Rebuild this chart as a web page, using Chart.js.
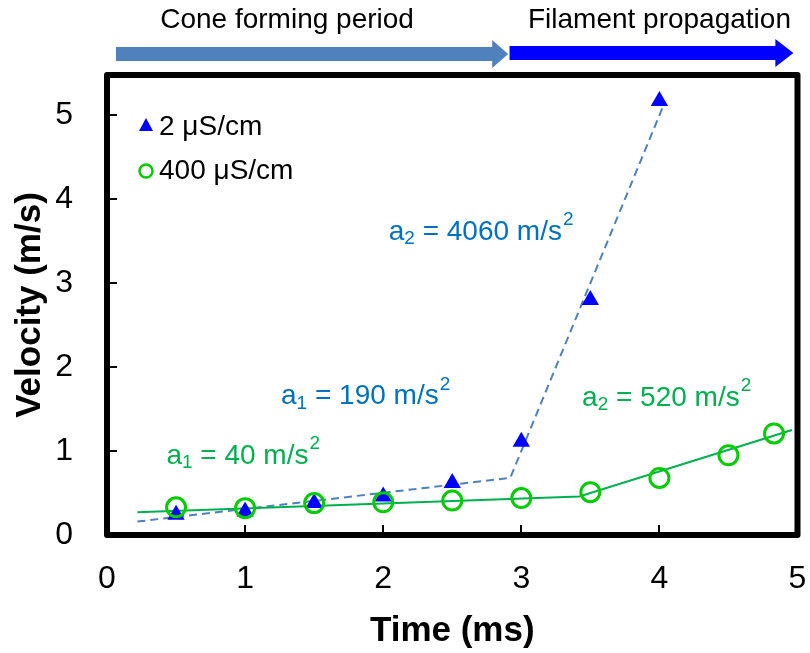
<!DOCTYPE html>
<html>
<head>
<meta charset="utf-8">
<script src="https://cdn.jsdelivr.net/npm/chart.js@4.4.1/dist/chart.umd.min.js"></script>
<style>
  html, body { margin: 0; padding: 0; background: #fff; }
  #wrap { width: 810px; height: 653px; }
</style>
</head>
<body>
<div id="wrap"><canvas id="velChart" width="810" height="653"></canvas></div>
<script>
// --- Data ---
const time2 = [0.5, 1, 1.5, 2, 2.5, 3, 3.5, 4];
const vel2 = [0.24, 0.28, 0.38, 0.46, 0.62, 1.11, 2.80, 5.17];
const time400 = [0.5, 1, 1.5, 2, 2.5, 3, 3.5, 4, 4.5, 4.83];
const vel400 = [0.33, 0.32, 0.38, 0.39, 0.41, 0.44, 0.51, 0.68, 0.95, 1.21];

// piecewise linear fits
const fitTime2 = [0.22, 2.92, 4.03];
const fitVel2 = [0.16, 0.68, 5.12];
const fitTime400 = [0.22, 3.42, 4.96];
const fitVel400 = [0.27, 0.46, 1.25];

const xTicks = [0, 1, 2, 3, 4, 5];
const yTicks = [0, 1, 2, 3, 4, 5];

const seriesNames = ['2 \u03bcS/cm', '400 \u03bcS/cm'];

// phase arrows along the top (in ms)
const phaseNames = ['Cone forming period', 'Filament propagation'];
const phaseFrom = [0.065, 2.915];
const phaseTo = [2.905, 4.97];

// slope labels: [sub, rest, x (ms), y (m/s), colour]
const slopeText = [
    ['2', ' = 4060 m/s', 2.04, 3.61, '#0070C0'],
    ['1', ' = 190 m/s', 1.26, 1.65, '#0070C0'],
    ['1', ' = 40 m/s', 0.43, 0.94, '#00B050'],
    ['2', ' = 520 m/s', 3.44, 1.63, '#00B050']
];

const FONT = '"Liberation Sans", Arial, sans-serif';

function pts(xs, ys) {
    return xs.map((x, i) => ({ x: x, y: ys[i] }));
}

// --- Plugin: frame, inner ticks, arrows, labels, legend ---
const decor = {
    id: 'decor',
    afterDatasetsDraw(chart) {
        const ctx = chart.ctx;
        const a = chart.chartArea;
        const xs = chart.scales.x, ys = chart.scales.y;
        ctx.save();

        // inner tick marks
        ctx.strokeStyle = '#000';
        ctx.lineWidth = 2;
        ctx.beginPath();
        xTicks.slice(1, -1).forEach(v => {
            const px = Math.round(xs.getPixelForValue(v));
            ctx.moveTo(px, a.bottom);
            ctx.lineTo(px, a.bottom - 10);
        });
        yTicks.slice(1).forEach(v => {
            const py = Math.round(ys.getPixelForValue(v));
            ctx.moveTo(a.left, py);
            ctx.lineTo(a.left + 10, py);
        });
        ctx.stroke();

        // thick frame
        ctx.lineWidth = 6;
        ctx.lineJoin = 'round';
        ctx.strokeRect(a.left, a.top, a.right - a.left, a.bottom - a.top);

        // arrows
        const arrowCol = ['#4F81BD', '#0000FF'];
        phaseNames.forEach((name, i) => {
            const x0 = xs.getPixelForValue(phaseFrom[i]);
            const x1 = xs.getPixelForValue(phaseTo[i]);
            const cy = i === 0 ? 54 : 53;
            const head = i === 0 ? 16 : 18;
            ctx.fillStyle = arrowCol[i];
            ctx.beginPath();
            ctx.moveTo(x0, cy - 7);
            ctx.lineTo(x1 - head, cy - 7);
            ctx.lineTo(x1 - head, cy - 14);
            ctx.lineTo(x1, cy);
            ctx.lineTo(x1 - head, cy + 14);
            ctx.lineTo(x1 - head, cy + 7);
            ctx.lineTo(x0, cy + 7);
            ctx.closePath();
            ctx.fill();

            ctx.fillStyle = '#000';
            ctx.font = '28px ' + FONT;
            ctx.textAlign = 'center';
            ctx.textBaseline = 'middle';
            ctx.fillText(name, (x0 + x1) / 2 + (i === 0 ? -25 : 8), 20);
        });

        // slope labels
        ctx.textAlign = 'left';
        ctx.textBaseline = 'middle';
        slopeText.forEach(t => {
            let px = xs.getPixelForValue(t[2]);
            const py = ys.getPixelForValue(t[3]);
            ctx.fillStyle = t[4];
            ctx.font = '28px ' + FONT;
            ctx.fillText('a', px, py);
            px += ctx.measureText('a').width;
            ctx.font = '19px ' + FONT;
            ctx.fillText(t[0], px, py + 7);
            px += ctx.measureText(t[0]).width;
            ctx.font = '28px ' + FONT;
            ctx.fillText(t[1], px, py);
            px += ctx.measureText(t[1]).width;
            ctx.font = '19px ' + FONT;
            ctx.fillText('2', px + 1, py - 12);
        });

        // legend
        ctx.font = '28px ' + FONT;
        ctx.fillStyle = '#000';
        ctx.fillText(seriesNames[0], 159, 127);
        ctx.fillText(seriesNames[1], 159, 171);
        ctx.fillStyle = '#0000FF';
        ctx.beginPath();
        ctx.moveTo(146, 118);
        ctx.lineTo(153, 131);
        ctx.lineTo(139, 131);
        ctx.closePath();
        ctx.fill();
        ctx.strokeStyle = '#00CC00';
        ctx.lineWidth = 2.5;
        ctx.beginPath();
        ctx.arc(146, 171, 6.5, 0, Math.PI * 2);
        ctx.stroke();

        ctx.restore();
    }
};

new Chart(document.getElementById('velChart'), {
    type: 'scatter',
    data: {
        datasets: [
            {
                label: seriesNames[1],
                data: pts(time400, vel400),
                pointStyle: 'circle',
                pointRadius: 9.5,
                pointBorderWidth: 3,
                borderColor: '#00CC00',
                backgroundColor: 'rgba(0,0,0,0)',
                showLine: false,
                order: 0
            },
            {
                label: seriesNames[0],
                data: pts(time2, vel2),
                pointStyle: 'triangle',
                pointRadius: 10,
                pointBorderWidth: 0,
                borderColor: '#0000FF',
                backgroundColor: '#0000FF',
                showLine: false,
                order: 1
            },
            {
                label: 'fit 400',
                data: pts(fitTime400, fitVel400),
                showLine: true,
                borderColor: '#00B050',
                borderWidth: 2,
                pointRadius: 0,
                order: 2
            },
            {
                label: 'fit 2',
                data: pts(fitTime2, fitVel2),
                showLine: true,
                borderColor: '#4F81BD',
                borderWidth: 2,
                borderDash: [8, 5],
                pointRadius: 0,
                order: 3
            }
        ]
    },
    options: {
        responsive: false,
        animation: false,
        events: [],
        layout: { padding: { top: 75, right: 11, left: 0, bottom: 0 } },
        plugins: { legend: { display: false }, tooltip: { enabled: false } },
        scales: {
            x: {
                type: 'linear',
                min: 0,
                max: 5,
                border: { display: false },
                grid: { display: false, drawTicks: false },
                ticks: {
                    stepSize: 1,
                    padding: 25,
                    color: '#000',
                    font: { family: FONT, size: 32 }
                },
                title: {
                    display: true,
                    text: 'Time (ms)',
                    color: '#000',
                    font: { family: FONT, size: 35, weight: 'bold' },
                    padding: { top: 0, bottom: 1 }
                },
                afterFit(s) {
                    s.height = 118;
                    s.paddingLeft = 0;
                    s.paddingRight = 0;
                }
            },
            y: {
                type: 'linear',
                min: 0,
                max: 5.48,
                border: { display: false },
                grid: { display: false, drawTicks: false },
                ticks: {
                    stepSize: 1,
                    includeBounds: false,
                    padding: 34,
                    color: '#000',
                    font: { family: FONT, size: 32 }
                },
                title: {
                    display: true,
                    text: 'Velocity (m/s)',
                    color: '#000',
                    font: { family: FONT, size: 35, weight: 'bold' },
                    padding: { top: 9, bottom: 0 }
                },
                afterFit(s) {
                    s.width = 107;
                    s.paddingTop = 0;
                    s.paddingBottom = 0;
                }
            }
        }
    },
    plugins: [decor]
});
</script>
</body>
</html>
